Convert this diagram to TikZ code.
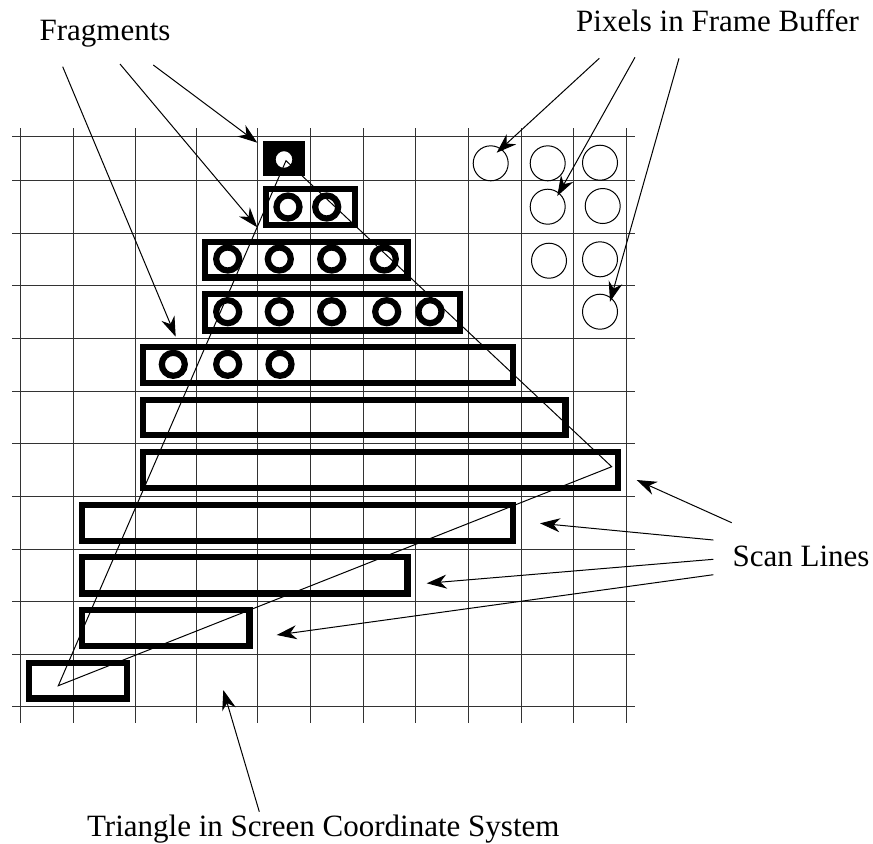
\documentclass[tikz,border=0pt]{standalone}
\usepackage{fontspec}
\setmainfont{Liberation Serif}
\usetikzlibrary{arrows.meta}

\tikzset{
  gridline/.style={draw=black!80, line width=0.5pt},
  scanbox/.style={draw, line width=3.1pt},
  fragring/.style={draw, line width=3.1pt},
  pixring/.style={draw, line width=0.5pt},
  tri/.style={draw, line width=0.5pt, line join=miter},
  pointer/.style={line width=0.5pt, -{Stealth[length=10pt,width=7pt,inset=3.2pt]}},
  lbl/.style={inner sep=0pt, anchor=base, font=\fontsize{15.5}{18}\selectfont}
}

\begin{document}
\begin{tikzpicture}[x=0.5pt,y=-0.5pt]
    \useasboundingbox (0,0) rectangle (873,843);

    % Grid
    \foreach \gx in {20.7,73.3,135,196.3,257.7,310.3,363,415.7,468.3,521,573.7,626.3}
        \draw[gridline] (\gx,128) -- (\gx,723);
    \foreach \gy in {136,180.7,233.3,285.7,338.7,391.3,443.3,496.3,549,601.7,654.3,706.7}
        \draw[gridline] (12,\gy) -- (635,\gy);

    % Scan lines
    \draw[scanbox, fill=black] (266,144.3) rectangle (302,172.4);
    \draw[scanbox] (266,189) rectangle (354.7,225);
    \draw[scanbox] (204.6,241.6) rectangle (407.4,277.4);
    \draw[scanbox] (204.6,294) rectangle (460,330.4);
    \draw[scanbox] (143.3,347) rectangle (512.7,383);
    \draw[scanbox] (143.3,399.6) rectangle (565.4,435);
    \draw[scanbox] (143.3,451.6) rectangle (618,488);
    \draw[scanbox] (81.6,504.6) rectangle (512.7,540.7);
    \draw[scanbox] (81.6,557.3) rectangle (407.4,593.4);
    \draw[scanbox] (81.6,610) rectangle (249.4,646);
    \draw[scanbox] (29,662.6) rectangle (126.7,698.4);

    % Fragments
    \draw[fragring, fill=white] (284,159.5) circle[radius=11.5];
    \foreach \fx in {288,326.7}
        \draw[fragring] (\fx,207) circle[radius=11.5];
    \foreach \fx in {227.7,279.3,331.7,384.3}
        \draw[fragring] (\fx,259) circle[radius=11.5];
    \foreach \fx in {227.7,279.3,331.7,386.7,430}
        \draw[fragring] (\fx,311.7) circle[radius=11.5];
    \foreach \fx in {173.3,227.7,280}
        \draw[fragring] (\fx,364.3) circle[radius=11.5];

    % Pixels in frame buffer
    \draw[pixring] (490.7,163.3) circle[radius=17.5];
    \draw[pixring] (547.7,163.3) circle[radius=17.5];
    \draw[pixring] (600,162.7) circle[radius=17.5];
    \draw[pixring] (547.7,206.7) circle[radius=17.5];
    \draw[pixring] (602.7,206) circle[radius=17.5];
    \draw[pixring] (549,260.7) circle[radius=17.5];
    \draw[pixring] (600,259.3) circle[radius=17.5];
    \draw[pixring] (600,311.7) circle[radius=17.5];

    % Triangle
    \coordinate (top) at (286,160.7);
    \coordinate (right) at (611.7,466.7);
    \coordinate (left) at (58.3,685.7);
    \draw[tri] (top) -- (right) -- (left) -- cycle;

    % Labels
    \node[lbl] (frag) at (105,40) {Fragments};
    \node[lbl] (pix) at (717.5,31.7) {Pixels in Frame Buffer};
    \node[lbl] (scan) at (801,566.7) {Scan Lines};
    \node[lbl] (tria) at (323.3,836.7) {Triangle in Screen Coordinate System};

    % Arrow ends
    \coordinate (fa1) at (62.7,66.7);   \coordinate (fb1) at (175.7,336.7);
    \coordinate (fa2) at (120,64);      \coordinate (fb2) at (257.3,227.3);
    \coordinate (fa3) at (153.3,65);    \coordinate (fb3) at (257.3,142.7);
    \coordinate (pa1) at (599.3,58.3);  \coordinate (pb1) at (496.7,152.7);
    \coordinate (pa2) at (635,57.3);    \coordinate (pb2) at (557.3,196);
    \coordinate (pa3) at (679,58.3);    \coordinate (pb3) at (610,301.7);
    \coordinate (sa1) at (731.7,522.7); \coordinate (sb1) at (636.7,480);
    \coordinate (sa2) at (713.3,540);   \coordinate (sb2) at (540,523.3);
    \coordinate (sa3) at (713.3,559.3); \coordinate (sb3) at (426.7,583.3);
    \coordinate (sa4) at (713.3,574.7); \coordinate (sb4) at (276.7,635);
    \coordinate (ta) at (259.3,811.7);  \coordinate (tb) at (223.3,690);

    % Arrows
    \draw[pointer] (fa1) -- (fb1);
    \draw[pointer] (fa2) -- (fb2);
    \draw[pointer] (fa3) -- (fb3);
    \draw[pointer] (pa1) -- (pb1);
    \draw[pointer] (pa2) -- (pb2);
    \draw[pointer] (pa3) -- (pb3);
    \draw[pointer] (sa1) -- (sb1);
    \draw[pointer] (sa2) -- (sb2);
    \draw[pointer] (sa3) -- (sb3);
    \draw[pointer] (sa4) -- (sb4);
    \draw[pointer] (ta) -- (tb);
\end{tikzpicture}
\end{document}
